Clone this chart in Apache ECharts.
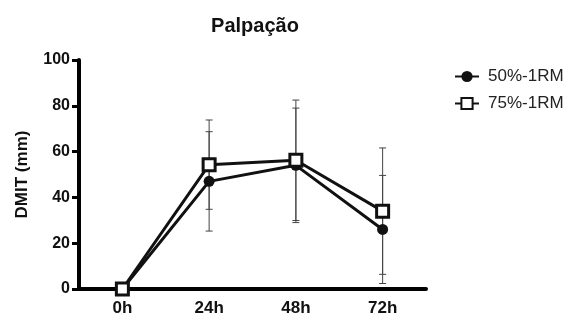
<!DOCTYPE html>
<html>
<head>
<meta charset="utf-8">
<script src="https://cdn.jsdelivr.net/npm/echarts@6/dist/echarts.min.js"></script>
<style>
  html, body { margin: 0; padding: 0; background: #fff; }
  #chart { width: 571px; height: 317px; }
</style>
</head>
<body>
<div id="chart"></div>
<script>
const categories = ['0h', '24h', '48h', '72h']
const mean50 = [0, 47, 54, 26]
const sd50 = [0, 21.7, 25, 23.6]
const mean75 = [0, 54.3, 56.2, 34]
const sd75 = [0, 19.5, 26.3, 27.6]
const yTicks = [0, 20, 40, 60, 80, 100]

const myChart = echarts.init(document.getElementById('chart'))

function errData(mean, sd) {
  const out = []
  mean.forEach((m, i) => {
    if (sd[i] > 0) out.push([i, m - sd[i], m + sd[i]])
  })
  return out
}

function errSeries(mean, sd) {
  return {
    type: 'custom',
    data: errData(mean, sd),
    z: 1,
    silent: true,
    renderItem: function (params, api) {
      const x = api.value(0)
      const lo = api.coord([x, api.value(1)])
      const hi = api.coord([x, api.value(2)])
      const w = 3.5
      const st = { stroke: '#444', lineWidth: 1 }
      return {
        type: 'group',
        children: [
          { type: 'line', shape: { x1: lo[0], y1: lo[1], x2: hi[0], y2: hi[1] }, style: st },
          { type: 'line', shape: { x1: lo[0] - w, y1: lo[1], x2: lo[0] + w, y2: lo[1] }, style: st },
          { type: 'line', shape: { x1: hi[0] - w, y1: hi[1], x2: hi[0] + w, y2: hi[1] }, style: st }
        ]
      }
    }
  }
}

const option = {
  animation: false,
  textStyle: { fontFamily: 'Liberation Sans' },
  title: {
    text: 'Palpação',
    left: 250,
    textAlign: 'center',
    top: 11,
    textStyle: { fontSize: 20, fontWeight: 'bold', color: '#111', fontFamily: 'Liberation Sans' }
  },
  legend: {
    orient: 'vertical',
    left: 449,
    top: 63,
    itemGap: 10,
    itemWidth: 24,
    itemHeight: 14,
    textStyle: { fontSize: 17, color: '#222', fontFamily: 'Liberation Sans', padding: [0, 0, 0, 4] },
    data: ['50%-1RM', '75%-1RM']
  },
  grid: {
    left: 79,
    right: 145,
    top: 60,
    bottom: 28,
    containLabel: false
  },
  xAxis: {
    type: 'category',
    data: categories,
    boundaryGap: true,
    axisLine: { lineStyle: { color: '#000', width: 4 } },
    axisTick: { alignWithLabel: true, length: 6, lineStyle: { color: '#000', width: 3 } },
    axisLabel: { fontSize: 17, fontWeight: 'bold', color: '#111', margin: 11 }
  },
  yAxis: {
    type: 'value',
    min: 0,
    max: 100,
    interval: 20,
    name: 'DMIT (mm)',
    nameLocation: 'middle',
    nameGap: 48,
    nameTextStyle: { fontSize: 17, fontWeight: 'bold', color: '#111' },
    splitLine: { show: false },
    axisLine: { show: true, lineStyle: { color: '#000', width: 4 } },
    axisTick: { show: true, length: 7, lineStyle: { color: '#000', width: 3 } },
    axisLabel: {
      fontSize: 16,
      fontWeight: 'bold',
      color: '#111',
      margin: 9,
      formatter: v => yTicks.includes(v) ? String(v) : ''
    }
  },
  series: [
    errSeries(mean50, sd50),
    errSeries(mean75, sd75),
    {
      name: '50%-1RM',
      type: 'line',
      data: mean50,
      z: 3,
      symbol: 'circle',
      symbolSize: 11,
      itemStyle: { color: '#111' },
      lineStyle: { color: '#111', width: 3 }
    },
    {
      name: '75%-1RM',
      type: 'line',
      data: mean75,
      z: 4,
      symbol: 'rect',
      symbolSize: 12,
      itemStyle: { color: '#fff', borderColor: '#111', borderWidth: 3 },
      lineStyle: { color: '#111', width: 3 }
    }
  ]
}

myChart.setOption(option)
</script>
</body>
</html>
